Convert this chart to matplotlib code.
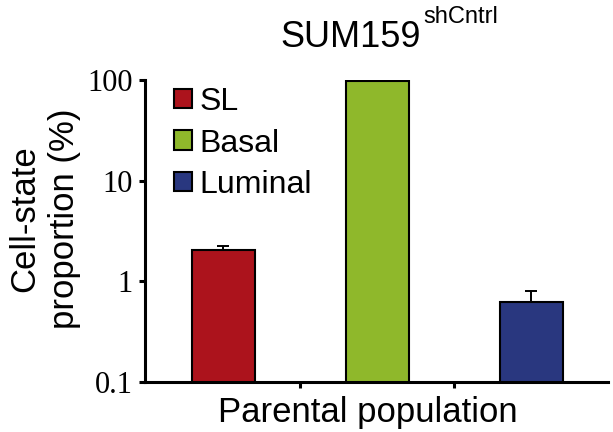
import matplotlib.pyplot as plt
from matplotlib.patches import Patch
import numpy as np

# data
states = ['SL', 'Basal', 'Luminal']
proportion = [2.06, 97.3, 0.63]
err_up = [0.17, 0.8, 0.18]
bar_colors = ['#ac131c', '#8fb82b', '#29377f']
yticks = [0.1, 1, 10, 100]
ytick_labels = ['0.1', '1', '10', '100']

plt.rcParams['font.family'] = ['Liberation Sans', 'DejaVu Sans']

fig = plt.figure(figsize=(6.13, 4.32), dpi=100)
ax = fig.add_axes([145 / 613, 1 - 382 / 432, 463 / 613, 302 / 432])

x = np.arange(len(states))
ax.bar(x, proportion, width=0.41, color=bar_colors, edgecolor='black', linewidth=1.5,
       yerr=[np.zeros(len(err_up)), err_up], capsize=4,
       error_kw=dict(ecolor='black', elinewidth=1.4, capthick=1.4), zorder=2)

ax.set_yscale('log')
ax.set_ylim(0.1, 100)
ax.set_xlim(-0.51, 2.5)
ax.set_yticks(yticks)
ax.set_yticklabels(ytick_labels, fontfamily='Liberation Serif', fontsize=22)
ax.yaxis.set_minor_locator(plt.NullLocator())
ax.set_xticks([0.5, 1.5])
ax.set_xticklabels([])

for s in ['top', 'right']:
    ax.spines[s].set_visible(False)
for s in ['left', 'bottom']:
    ax.spines[s].set_linewidth(2.2)
ax.tick_params(axis='both', width=2.2, length=4, pad=5, direction='out')

# legend
handles = [Patch(facecolor=c, edgecolor='black', linewidth=1.5) for c in bar_colors]
fig.legend(handles, states, loc='upper left', bbox_to_anchor=(174 / 613, 1 - 87 / 432),
           frameon=False, fontsize=23, borderpad=0, handlelength=0.56, handleheight=0.56,
           handletextpad=0.25, labelspacing=0.36, borderaxespad=0)

# titles and labels
fig.text(280 / 613, 1 - 47 / 432, 'SUM159', fontsize=26, ha='left', va='baseline')
fig.text(423 / 613, 1 - 23 / 432, 'shCntrl', fontsize=17, ha='left', va='baseline')
fig.text(368 / 613, 1 - 421.7 / 432, 'Parental population', fontsize=25, ha='center', va='baseline')
fig.text(45 / 613, 1 - 219 / 432, 'Cell-state\nproportion (%)', fontsize=25, rotation=90,
         ha='center', va='center', linespacing=1.25, multialignment='center')

fig.savefig('out.png', dpi=100)
